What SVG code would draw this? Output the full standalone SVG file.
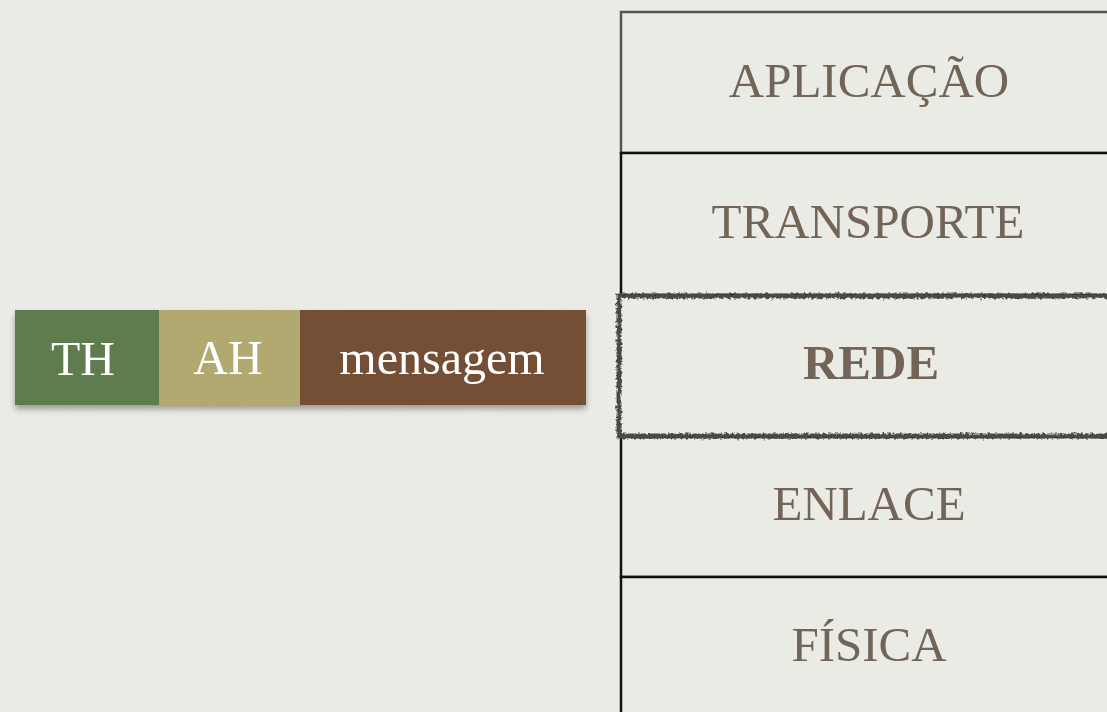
<svg xmlns="http://www.w3.org/2000/svg" width="1107" height="712" viewBox="0 0 1107 712">
<style>
.layer{fill:#ebebe6;stroke:#111;stroke-width:2.5}
.lt{font-family:"Liberation Serif",serif;font-size:49px;fill:#736458;text-anchor:middle}
.wt{font-family:"Liberation Serif",serif;font-size:48px;fill:#ffffff;text-anchor:middle}
</style>
<defs>
<filter id="sh" x="-5%" y="-20%" width="110%" height="150%">
<feDropShadow dx="0" dy="4" stdDeviation="3" flood-color="#000" flood-opacity="0.35"/>
</filter>
<filter id="rough" x="-2%" y="-10%" width="104%" height="120%">
<feTurbulence type="fractalNoise" baseFrequency="0.35" numOctaves="2" seed="3" result="n"/>
<feDisplacementMap in="SourceGraphic" in2="n" scale="5"/>
</filter>
<filter id="paper" x="0" y="0" width="100%" height="100%">
<feTurbulence type="fractalNoise" baseFrequency="0.02 0.4" numOctaves="2" seed="5" result="t"/>
<feColorMatrix in="t" type="matrix" values="0 0 0 0 0.5  0 0 0 0 0.5  0 0 0 0 0.48  0 0 0 0.08 0" result="c"/>
<feComposite in="c" in2="SourceGraphic" operator="over"/>
</filter>
</defs>
<rect width="1107" height="712" fill="#ecece8"/>
<rect width="1107" height="712" fill="#ecece8" filter="url(#paper)"/>
<g id="packet" filter="url(#sh)">
<g id="th"><rect x="15" y="310" width="144" height="95" fill="#5e7c4f"/><text class="wt" x="83" y="375">TH</text></g>
<g id="ah"><rect x="159" y="310" width="141" height="95" fill="#b1a96f"/><text class="wt" x="228" y="374">AH</text></g>
<g id="mensagem"><rect x="300" y="310" width="286" height="95" fill="#744f35"/><text class="wt" x="442" y="374">mensagem</text></g>
</g>
<g id="aplicacao"><rect x="621" y="12" width="500" height="141" fill="#ebebe6" stroke="#555" stroke-width="2.5"/><text class="lt" x="869" y="97">APLICAÇÃO</text></g>
<g id="transporte"><rect class="layer" x="621" y="153" width="500" height="142"/><text class="lt" x="868" y="238">TRANSPORTE</text></g>
<g id="enlace"><rect class="layer" x="621" y="437" width="500" height="140"/><text class="lt" x="869" y="520">ENLACE</text></g>
<g id="fisica"><rect class="layer" x="621" y="577" width="500" height="150"/><text class="lt" x="869" y="661">FÍSICA</text></g>
<g id="rede"><rect x="619" y="296" width="500" height="140" fill="#ebebe6"/><rect x="619" y="296" width="500" height="140" fill="none" stroke="#4a4a4a" stroke-width="5" filter="url(#rough)"/><text class="lt" x="871" y="379" style="font-weight:bold">REDE</text></g>
<g id="connectors"/>
</svg>
